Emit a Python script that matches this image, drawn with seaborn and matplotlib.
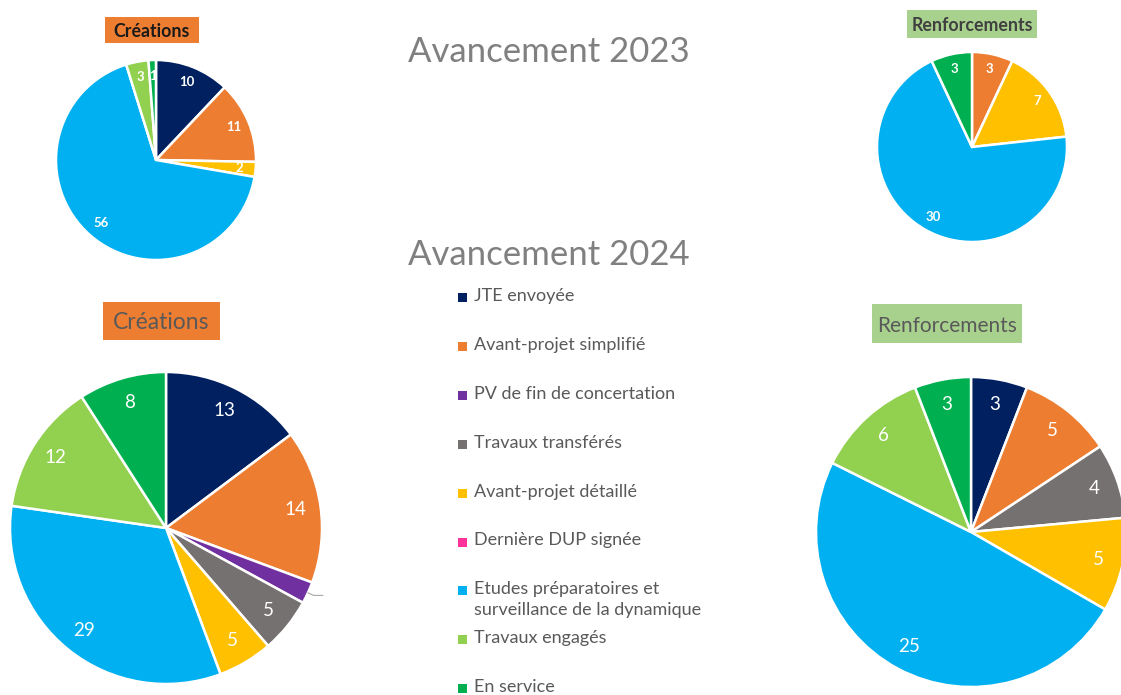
import numpy as np
import matplotlib
matplotlib.use("Agg")
import matplotlib.pyplot as plt
import seaborn as sns
from matplotlib.patches import Rectangle

# ---------------- data ----------------
categories = ["JTE envoyée", "Avant-projet simplifié", "PV de fin de concertation",
              "Travaux transférés", "Avant-projet détaillé", "Dernière DUP signée",
              "Etudes préparatoires et\nsurveillance de la dynamique",
              "Travaux engagés", "En service"]
creations_2023 = [10, 11, 0, 0, 2, 0, 56, 3, 1]
renforcements_2023 = [0, 3, 0, 0, 7, 0, 30, 0, 3]
creations_2024 = [13, 14, 2, 5, 5, 0, 29, 12, 8]
renforcements_2024 = [3, 5, 0, 4, 5, 0, 25, 6, 3]
hex_colors = ["#002060", "#ED7D31", "#7030A0", "#767171", "#FFC000",
              "#FF3399", "#00B0F0", "#92D050", "#00B050"]
title_2023 = "Avancement 2023"
title_2024 = "Avancement 2024"
sub_creations = "Créations"
sub_renforcements = "Renforcements"

# ---------------- style ----------------
sns.set_theme(style="white")
plt.rcParams['font.family'] = ['Lato', 'DejaVu Sans']
palette = sns.color_palette(hex_colors)

W, H = 1121, 695
fig = plt.figure(figsize=(W / 100, H / 100), dpi=100)
fig.patch.set_facecolor("white")


def add_pie(cx, cy, r, values, fontsize, weight, label_r=0.84, hidden=()):
    ax = fig.add_axes([(cx - r) / W, (H - cy - r) / H, 2 * r / W, 2 * r / H])
    vals = [v for v in values if v > 0]
    cols = [palette[i] for i, v in enumerate(values) if v > 0]
    idx = [i for i, v in enumerate(values) if v > 0]
    wedges, _ = ax.pie(vals, colors=cols, startangle=90, counterclock=False,
                       radius=1.0,
                       wedgeprops=dict(edgecolor="white", linewidth=1.8))
    for w, v, i in zip(wedges, vals, idx):
        mid = np.deg2rad((w.theta1 + w.theta2) / 2)
        if i in hidden:
            x0, y0 = np.cos(mid) * 1.0, np.sin(mid) * 1.0
            x1, y1 = np.cos(mid) * 1.04, np.sin(mid) * 1.04
            ax.plot([x0, x1, x1 + 0.06], [y0, y1, y1], color="#A6A6A6",
                    lw=0.8, clip_on=False)
            continue
        ax.text(np.cos(mid) * label_r, np.sin(mid) * label_r, str(v),
                ha="center", va="center", color="white",
                fontsize=fontsize, fontweight=weight)
    ax.set_xlim(-1, 1)
    ax.set_ylim(-1, 1)
    ax.set_aspect("equal")
    ax.axis("off")
    return ax


def box_title(x0, y0, x1, y1, text, fc, tc, size, weight):
    fig.patches.append(Rectangle((x0 / W, 1 - y1 / H), (x1 - x0) / W,
                                 (y1 - y0) / H, transform=fig.transFigure,
                                 facecolor=fc, edgecolor="none", zorder=0))
    fig.text((x0 + x1) / 2 / W, 1 - (y0 + y1) / 2 / H, text, ha="center",
             va="center_baseline", fontsize=size, fontweight=weight, color=tc)


# pies
add_pie(156, 160, 100, creations_2023, 9.5, "bold")
add_pie(972, 147, 95, renforcements_2023, 9.5, "bold")
add_pie(166, 528, 156, creations_2024, 13.5, "normal", hidden=(2,))
add_pie(971, 532, 155, renforcements_2024, 13.5, "normal")

# big titles
fig.text(549 / W, 1 - 52 / H, title_2023, ha="center", va="center",
         fontsize=25, color="#808080")
fig.text(549 / W, 1 - 255 / H, title_2024, ha="center", va="center",
         fontsize=25, color="#808080")

# sub titles
box_title(105, 17, 199, 43, sub_creations, "#ED7D31", "#1a1a1a", 12.8, "bold")
box_title(907, 10, 1037, 38, sub_renforcements, "#A9D18E", "#404040", 12.8, "bold")
box_title(103, 302, 220, 340, sub_creations, "#ED7D31", "#595959", 16.5, "normal")
box_title(872, 304, 1022, 343, sub_renforcements, "#A9D18E", "#595959", 15, "normal")

# legend (manual, fixed slots like the original)
y0, step = 297, 48.9
for i, (cat, col) in enumerate(zip(categories, palette)):
    y = y0 + i * step
    fig.patches.append(Rectangle((458 / W, 1 - (y + 5) / H), 9 / W, 9 / H,
                                 transform=fig.transFigure, facecolor=col,
                                 edgecolor="none"))
    fig.text(474 / W, 1 - (y - 9) / H, cat, ha="left", va="top",
             fontsize=13, color="#595959", linespacing=1.38)

fig.savefig("out.png", dpi=100, facecolor="white")
